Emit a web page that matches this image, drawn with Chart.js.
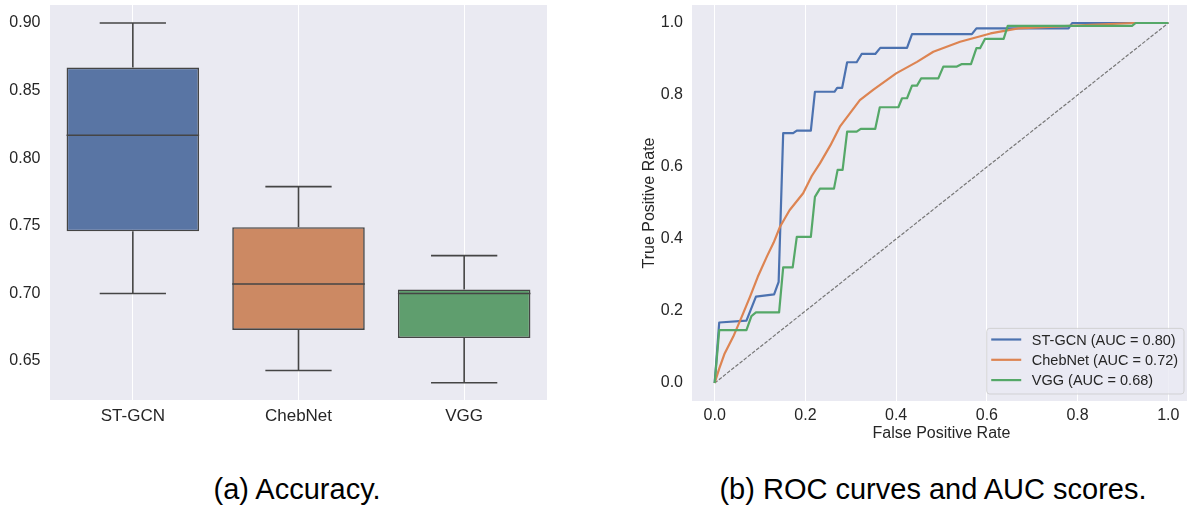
<!DOCTYPE html>
<html>
<head>
<meta charset="utf-8">
<title>Accuracy and ROC curves</title>
<script src="https://cdn.jsdelivr.net/npm/chart.js@4.4.1/dist/chart.umd.min.js"></script>
<style>
  html, body { margin: 0; padding: 0; background: #fff; overflow: hidden; }
  body { width: 1187px; height: 506px; position: relative; font-family: "Liberation Sans", Arial, sans-serif; }
  #accuracy-chart { position: absolute; left: 0; top: 0; }
  #roc-chart { position: absolute; left: 620px; top: 0; }
  .caption { position: absolute; top: 475px; font-size: 29px; line-height: 1; color: #000; white-space: nowrap; transform: translateX(-50%); }
</style>
</head>
<body>
<canvas id="accuracy-chart" width="560" height="440"></canvas>
<canvas id="roc-chart" width="571" height="450"></canvas>
<div class="caption" style="left:297px">(a) Accuracy.</div>
<div class="caption" style="left:933px">(b) ROC curves and AUC scores.</div>
<script>
// ---- (a) accuracy box plot data ----
const categories = ['ST-GCN', 'ChebNet', 'VGG'];
const whiskerLow = [0.700, 0.643, 0.634];
const q1 = [0.746, 0.673, 0.667];
const medians = [0.817, 0.707, 0.700];
const q3 = [0.867, 0.749, 0.703];
const whiskerHigh = [0.900, 0.779, 0.728];
const accuracyTicks = [0.65, 0.70, 0.75, 0.80, 0.85, 0.90];

// ---- (b) ROC curve data ----
const modelNames = ['ST-GCN', 'ChebNet', 'VGG'];
const aucScores = [0.80, 0.72, 0.68];
const stgcnFpr = [0, 0.01, 0.07, 0.091, 0.131, 0.141, 0.151, 0.173, 0.181, 0.212, 0.221, 0.264, 0.27, 0.281, 0.292, 0.313, 0.324, 0.354, 0.365, 0.424, 0.435, 0.567, 0.577, 0.78, 0.788, 1.0];
const stgcnTpr = [0, 0.168, 0.173, 0.24, 0.246, 0.281, 0.694, 0.694, 0.701, 0.701, 0.809, 0.809, 0.82, 0.82, 0.891, 0.891, 0.914, 0.914, 0.931, 0.931, 0.969, 0.969, 0.985, 0.985, 1.0, 1.0];
const chebFpr = [0, 0.01, 0.022, 0.041, 0.06, 0.078, 0.095, 0.115, 0.13, 0.144, 0.165, 0.195, 0.214, 0.232, 0.255, 0.276, 0.298, 0.32, 0.35, 0.4, 0.446, 0.482, 0.541, 0.608, 0.669, 0.749, 0.829, 0.925, 1.0];
const chebTpr = [0, 0.04, 0.082, 0.129, 0.185, 0.24, 0.295, 0.351, 0.39, 0.434, 0.48, 0.527, 0.575, 0.61, 0.66, 0.712, 0.749, 0.786, 0.815, 0.86, 0.892, 0.92, 0.948, 0.971, 0.985, 0.99, 0.995, 1.0, 1.0];
const vggFpr = [0, 0.01, 0.07, 0.081, 0.091, 0.142, 0.151, 0.172, 0.181, 0.212, 0.221, 0.232, 0.263, 0.271, 0.282, 0.292, 0.313, 0.322, 0.354, 0.364, 0.405, 0.413, 0.424, 0.435, 0.446, 0.455, 0.493, 0.504, 0.534, 0.545, 0.565, 0.577, 0.585, 0.596, 0.637, 0.646, 0.92, 0.928, 1.0];
const vggTpr = [0, 0.147, 0.147, 0.186, 0.196, 0.196, 0.321, 0.321, 0.406, 0.406, 0.517, 0.54, 0.54, 0.592, 0.592, 0.698, 0.698, 0.706, 0.706, 0.766, 0.766, 0.791, 0.791, 0.826, 0.826, 0.846, 0.846, 0.879, 0.879, 0.886, 0.886, 0.93, 0.93, 0.956, 0.956, 0.992, 0.992, 1.0, 1.0];
const chanceFpr = [0, 1];
const chanceTpr = [0, 1];
const rocTicks = [0, 0.2, 0.4, 0.6, 0.8, 1.0];

// ---- styling ----
const FONT = '"Liberation Sans", Arial, sans-serif';
const TEXT = '#262626';
const PLOT_BG = '#eaeaf2';
const BOX_LINE = '#454545';
const boxColors = ['#5975a4', '#cc8963', '#5f9e6e'];
const lineColors = ['#4c72b0', '#dd8452', '#55a868'];

Chart.defaults.font.family = FONT;
Chart.defaults.color = TEXT;

const zip = (xs, ys) => xs.map((x, i) => ({ x, y: ys[i] }));

// Fixed axis boxes, and no extra room reserved for half labels at the ends
const fixAxis = (size) => (s) => {
  if (s.isHorizontal()) s.height = size; else s.width = size;
  s.paddingTop = 0;
  s.paddingBottom = 0;
  s.paddingLeft = 0;
  s.paddingRight = 0;
};

// Fill the plot area like the seaborn darkgrid style
const plotBackground = {
  id: 'plotBackground',
  beforeDraw(chart) {
    const { ctx, chartArea: a } = chart;
    ctx.save();
    ctx.fillStyle = PLOT_BG;
    ctx.fillRect(a.left, a.top, a.right - a.left, a.bottom - a.top);
    ctx.restore();
  }
};

// Whiskers, caps and medians drawn on top of the floating IQR bars
const boxWhiskers = {
  id: 'boxWhiskers',
  afterDatasetsDraw(chart) {
    const { ctx } = chart;
    const yScale = chart.scales.y;
    const bars = chart.getDatasetMeta(0).data;
    const seg = (x1, y1, x2, y2) => {
      ctx.beginPath();
      ctx.moveTo(x1, y1);
      ctx.lineTo(x2, y2);
      ctx.stroke();
    };
    ctx.save();
    ctx.strokeStyle = BOX_LINE;
    ctx.lineWidth = 1.6;
    bars.forEach((bar, i) => {
      const { x, width } = bar.getProps(['x', 'width'], true);
      const half = width / 2;
      const cap = width / 4;
      const yHigh = yScale.getPixelForValue(whiskerHigh[i]);
      const yLow = yScale.getPixelForValue(whiskerLow[i]);
      seg(x, yScale.getPixelForValue(q3[i]), x, yHigh);
      seg(x, yScale.getPixelForValue(q1[i]), x, yLow);
      seg(x - cap, yHigh, x + cap, yHigh);
      seg(x - cap, yLow, x + cap, yLow);
      const yMed = yScale.getPixelForValue(medians[i]);
      seg(x - half, yMed, x + half, yMed);
    });
    ctx.restore();
  }
};

// Legend in the lower right corner of the plot area (matplotlib style)
const rocLegend = {
  id: 'rocLegend',
  afterDraw(chart) {
    const { ctx, chartArea: a } = chart;
    const items = chart.data.datasets.filter(d => d.inLegend);
    const fontSize = 14.5;
    const rowH = 20.3;
    ctx.save();
    ctx.font = `${fontSize}px ${FONT}`;
    const textW = Math.max(...items.map(d => ctx.measureText(d.label).width));
    const w = 46 + textW + 5;
    const h = 65.6;
    const right = a.right - 7.5;
    const bottom = a.bottom - 7.5;
    const left = right - w;
    const top = bottom - h;

    ctx.beginPath();
    ctx.roundRect(left + 0.5, top + 0.5, w, h, 3);
    ctx.fillStyle = 'rgba(234, 234, 242, 0.8)';
    ctx.fill();
    ctx.strokeStyle = 'rgba(204, 204, 204, 0.8)';
    ctx.lineWidth = 1;
    ctx.stroke();

    items.forEach((d, i) => {
      const cy = top + 11.6 + i * rowH;
      ctx.strokeStyle = d.borderColor;
      ctx.lineWidth = 2.2;
      ctx.beginPath();
      ctx.moveTo(left + 5, cy);
      ctx.lineTo(left + 35, cy);
      ctx.stroke();
      ctx.fillStyle = TEXT;
      ctx.textBaseline = 'alphabetic';
      ctx.fillText(d.label, left + 45.6, cy + 0.358 * fontSize);
    });
    ctx.restore();
  }
};

// ---- (a) Accuracy ----
new Chart(document.getElementById('accuracy-chart'), {
  type: 'bar',
  data: {
    labels: categories,
    datasets: [{
      data: q1.map((v, i) => [v, q3[i]]),
      backgroundColor: boxColors,
      borderColor: BOX_LINE,
      borderWidth: 1.6,
      borderSkipped: false,
      barPercentage: 0.8,
      categoryPercentage: 1
    }]
  },
  options: {
    responsive: false,
    animation: false,
    devicePixelRatio: 1,
    layout: { padding: { top: 5, right: 13, bottom: 0, left: 0 } },
    plugins: { legend: { display: false }, tooltip: { enabled: false } },
    scales: {
      x: {
        grid: { color: '#ffffff', lineWidth: 1, offset: false, drawTicks: false },
        border: { display: false },
        ticks: { font: { size: 17 }, color: TEXT, padding: 6.5 },
        afterFit: fixAxis(40)
      },
      y: {
        min: 0.6212,
        max: 0.9133,
        grid: { display: false, drawTicks: false },
        border: { display: false },
        afterBuildTicks: s => { s.ticks = accuracyTicks.map(v => ({ value: v })); },
        ticks: { font: { size: 16 }, color: TEXT, padding: 9.5, callback: v => v.toFixed(2) },
        afterFit: fixAxis(50)
      }
    }
  },
  plugins: [plotBackground, boxWhiskers]
});

// ---- (b) ROC curves ----
const rocSeries = [[stgcnFpr, stgcnTpr], [chebFpr, chebTpr], [vggFpr, vggTpr]];
const rocDatasets = rocSeries.map(([fpr, tpr], i) => ({
  label: `${modelNames[i]} (AUC = ${aucScores[i].toFixed(2)})`,
  data: zip(fpr, tpr),
  borderColor: lineColors[i],
  borderWidth: 2.2,
  pointRadius: 0,
  tension: 0,
  borderJoinStyle: 'round',
  inLegend: true,
  order: 3 - i
}));
rocDatasets.push({
  label: 'chance',
  data: zip(chanceFpr, chanceTpr),
  borderColor: '#777777',
  borderWidth: 1.2,
  borderDash: [3.7, 1.6],
  pointRadius: 0,
  inLegend: false,
  order: 4
});

new Chart(document.getElementById('roc-chart'), {
  type: 'line',
  data: { datasets: rocDatasets },
  options: {
    responsive: false,
    animation: false,
    devicePixelRatio: 1,
    layout: { padding: { top: 5, right: 0, bottom: 0, left: 0 } },
    plugins: { legend: { display: false }, tooltip: { enabled: false } },
    scales: {
      x: {
        type: 'linear',
        min: -0.05,
        max: 1.05,
        grid: { color: '#ffffff', lineWidth: 1, drawTicks: false },
        border: { display: false },
        afterBuildTicks: s => { s.ticks = rocTicks.map(v => ({ value: v })); },
        ticks: { font: { size: 16 }, color: TEXT, padding: 5, callback: v => v.toFixed(1) },
        title: { display: true, text: 'False Positive Rate', font: { size: 16 }, color: TEXT, padding: { top: 0, bottom: 7 } },
        afterFit: fixAxis(49)
      },
      y: {
        type: 'linear',
        min: -0.05,
        max: 1.05,
        grid: { display: false, drawTicks: false },
        border: { display: false },
        afterBuildTicks: s => { s.ticks = rocTicks.map(v => ({ value: v })); },
        ticks: { font: { size: 16 }, color: TEXT, padding: 9, callback: v => v.toFixed(1) },
        title: { display: true, text: 'True Positive Rate', font: { size: 16 }, color: TEXT, padding: { top: 20, bottom: 0 } },
        afterFit: fixAxis(72)
      }
    }
  },
  plugins: [plotBackground, rocLegend]
});
</script>
</body>
</html>
